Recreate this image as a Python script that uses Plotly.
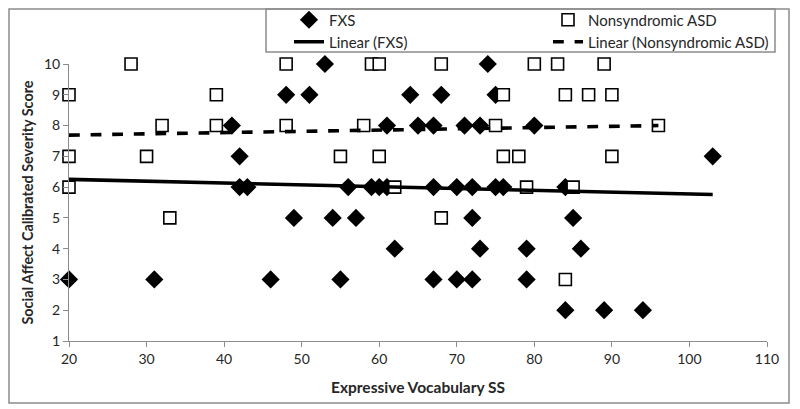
import plotly.graph_objects as go

# FXS group
fxs_x = [53, 74,
         48, 51, 64, 68, 75,
         41, 61, 65, 67, 71, 73, 80,
         42, 103,
         42, 43, 56, 59, 60, 61, 67, 70, 72, 75, 76, 84,
         49, 54, 57, 72, 85,
         62, 73, 79, 86,
         20, 31, 46, 55, 67, 70, 72, 79,
         84, 89, 94]
fxs_y = [10, 10,
         9, 9, 9, 9, 9,
         8, 8, 8, 8, 8, 8, 8,
         7, 7,
         6, 6, 6, 6, 6, 6, 6, 6, 6, 6, 6, 6,
         5, 5, 5, 5, 5,
         4, 4, 4, 4,
         3, 3, 3, 3, 3, 3, 3, 3,
         2, 2, 2]

# Nonsyndromic ASD group
asd_x = [28, 48, 59, 60, 68, 80, 83, 89,
         20, 39, 76, 84, 87, 90,
         32, 39, 48, 58, 75, 96,
         20, 30, 55, 60, 76, 78, 90,
         20, 62, 79, 85,
         33, 68,
         84]
asd_y = [10, 10, 10, 10, 10, 10, 10, 10,
         9, 9, 9, 9, 9, 9,
         8, 8, 8, 8, 8, 8,
         7, 7, 7, 7, 7, 7, 7,
         6, 6, 6, 6,
         5, 5,
         3]

# Linear trend lines (end points)
trend_fxs_x = [20, 103]
trend_fxs_y = [6.25, 5.76]
trend_asd_x = [20, 96]
trend_asd_y = [7.69, 8.0]

x_ticks = [20, 30, 40, 50, 60, 70, 80, 90, 100, 110]
y_ticks = [1, 2, 3, 4, 5, 6, 7, 8, 9, 10]

FONT = "Lato"
TXT = "#262626"
GRID = "#8c8c8c"

OFF = 8  # page body margin
W, H = 800 - 2 * OFF, 409 - OFF
L, R, T, B = 69 - OFF, W - (767 - OFF), 64 - OFF, H - (341 - OFF)
pw, ph = W - L - R, H - T - B


def px_x(p):
    return (p - OFF - L) / pw


def px_y(p):
    return (H - B - (p - OFF)) / ph


fig = go.Figure()
fig.add_trace(go.Scatter(
    x=fxs_x, y=fxs_y, mode="markers", name="FXS", legend="legend",
    marker=dict(symbol="diamond", size=14, color="black"),
    cliponaxis=False))
fig.add_trace(go.Scatter(
    x=asd_x, y=asd_y, mode="markers", name="Nonsyndromic ASD", legend="legend2",
    marker=dict(symbol="square", size=12, color="white",
                line=dict(color="black", width=1.6)),
    cliponaxis=False))
fig.add_trace(go.Scatter(
    x=trend_fxs_x, y=trend_fxs_y, mode="lines", name="Linear (FXS)", legend="legend3",
    line=dict(color="black", width=3.6)))
fig.add_trace(go.Scatter(
    x=trend_asd_x, y=trend_asd_y, mode="lines", name="Linear (Nonsyndromic ASD)",
    legend="legend4", line=dict(color="black", width=3.6, dash="dash")))


def leg(text_x, row_y):
    return dict(
        orientation="v", x=px_x(text_x - 38), y=px_y(row_y),
        xanchor="left", yanchor="middle",
        bgcolor="rgba(0,0,0,0)", borderwidth=0,
        font=dict(family=FONT, size=15, color=TXT))


fig.update_layout(
    width=W, height=H,
    margin=dict(l=L, r=R, t=T, b=B, autoexpand=False),
    paper_bgcolor="white", plot_bgcolor="white",
    font=dict(family=FONT, size=14, color=TXT),
    showlegend=True,
    legend=leg(327, 20),
    legend2=leg(586, 20),
    legend3=leg(327, 42),
    legend4=leg(586, 42),
    xaxis=dict(
        range=[20, 110], tickvals=x_ticks, ticktext=[str(v) for v in x_ticks],
        showgrid=False, zeroline=False, showline=True, linecolor=GRID,
        linewidth=1, ticks="outside", ticklen=5, tickcolor=GRID,
        tickfont=dict(family=FONT, size=14, color=TXT), automargin=False,
        title=dict(text="<b>Expressive Vocabulary SS</b>", standoff=16,
                   font=dict(family=FONT, size=15.5, color=TXT))),
    yaxis=dict(
        range=[1, 10], tickvals=y_ticks, ticktext=[str(v) for v in y_ticks],
        showgrid=False, zeroline=False, showline=True, linecolor=GRID,
        linewidth=1, ticks="outside", ticklen=5, tickcolor=GRID,
        tickfont=dict(family=FONT, size=14, color=TXT), automargin=False,
        title=dict(text="<b>Social Affect Calibrated Severity Score</b>", standoff=6,
                   font=dict(family=FONT, size=14.4, color=TXT))),
    shapes=[
        dict(type="rect", xref="paper", yref="paper",
             x0=px_x(OFF + 1), x1=px_x(789), y0=px_y(403), y1=px_y(OFF + 1),
             line=dict(color=GRID, width=1.5), fillcolor="rgba(0,0,0,0)"),
        dict(type="rect", xref="paper", yref="paper",
             x0=px_x(266), x1=px_x(775), y0=px_y(52), y1=px_y(OFF + 1),
             line=dict(color=GRID, width=1.5), fillcolor="rgba(0,0,0,0)"),
    ],
)

fig.write_html("out.html")
